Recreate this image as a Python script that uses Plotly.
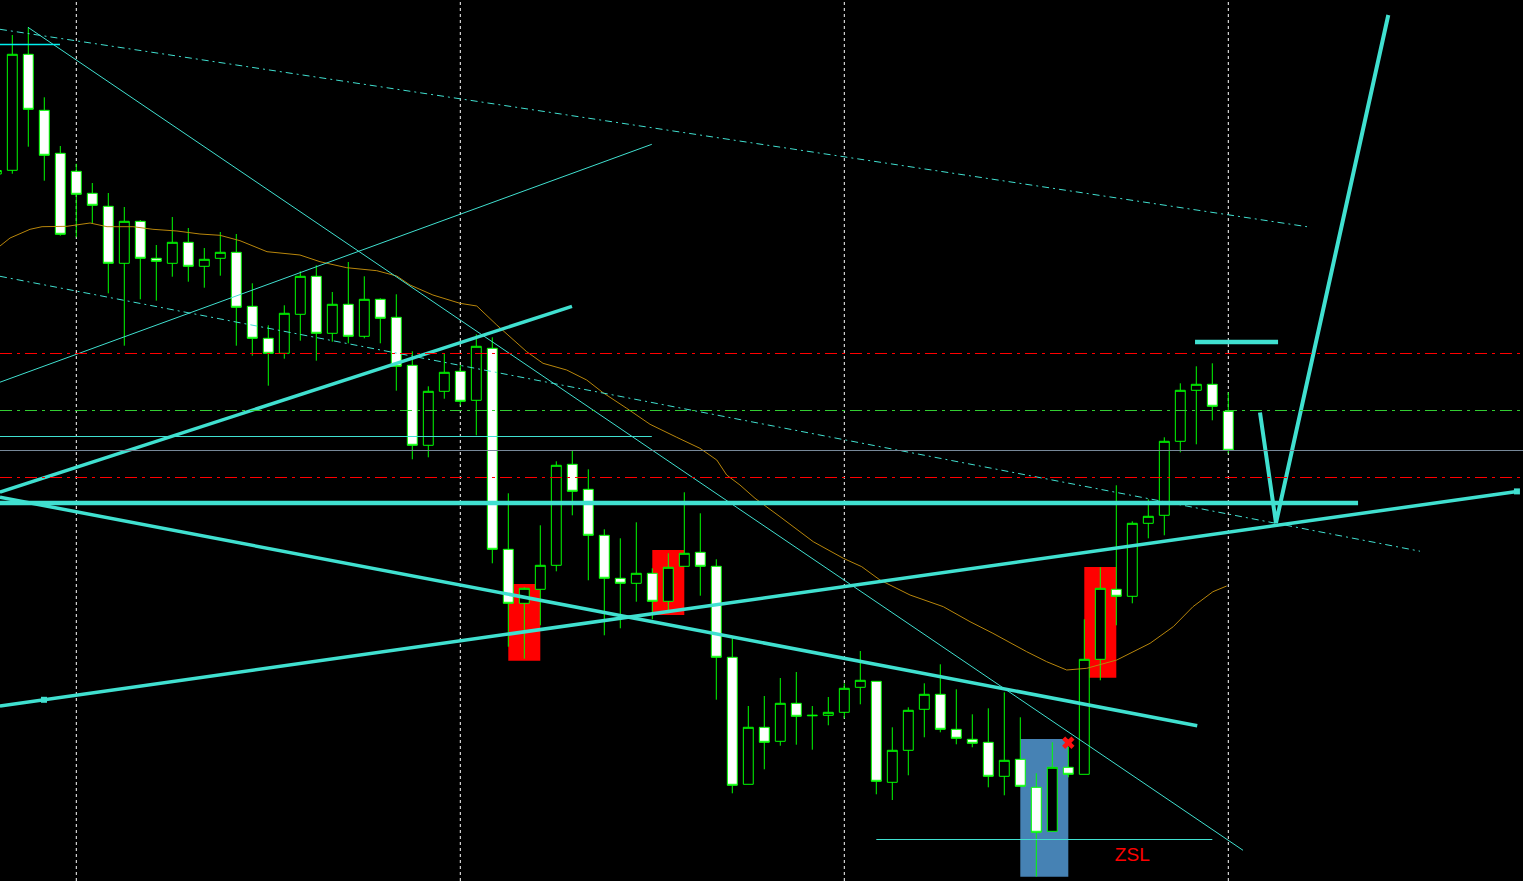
import plotly.graph_objects as go

# ---------------- candle data (bar index, OHLC) ----------------
bar_idx = list(range(-1, 77))
opens = [707, 710.7, 826.7, 770.7, 727.7, 709.7, 687.7, 674.7, 617.7, 659.7,
         622.7, 617.7, 638.7, 614.7, 622.7, 628.7, 574.7, 542.7, 527.7, 566.7,
         604.7, 547.7, 576.7, 544.7, 581.7, 563.7, 515.7, 435.7, 489.7, 509.7,
         480.7, 532.7, 331.7, 277.7, 291.7, 315.7, 416.7, 391.7, 345.7, 302.7,
         297.7, 307.7, 279.7, 314.7, 328.7, 314.7, 223.7, 96.7, 153.7, 139.7,
         177.7, 165.2, 165.7, 168.7, 193.7, 199.7, 98.7, 130.7, 171.7, 186.7,
         151.7, 141.7, 138.7, 104.7, 121.7, 93.7, 49.7, 113.7, 106.7, 221.7,
         291.7, 284.7, 357.7, 365.7, 439.7, 490.7, 496.7, 469.7]
highs = [713, 846, 853.7, 783.7, 735, 717.3, 698, 688, 674, 661,
         636, 664, 653, 633, 649, 647, 597.7, 555.7, 575.7, 609.7,
         615.7, 589, 619, 604.7, 582.7, 586.7, 529.7, 494.7, 527.7, 516,
         546.7, 543.7, 387.7, 293.7, 355.7, 419.7, 430.7, 411.7, 351.7, 342.7,
         358.7, 312.7, 327.7, 388.7, 367.7, 321.7, 243.7, 175, 185, 203,
         209, 175, 184, 197.7, 230, 199.7, 153.7, 173.7, 197.7, 216.7,
         191.7, 166.7, 172.7, 188.7, 163.7, 107.7, 138.7, 134.3, 261.7, 313.7,
         395.7, 359.7, 381.7, 443.7, 497.7, 514.7, 517.7, 488.7]
lows = [705, 707.3, 734.3, 700.3, 645.3, 643.7, 657.7, 587.7, 535.3, 581.7,
        580.3, 604.3, 599.3, 593.3, 605.3, 535.3, 525.3, 495.3, 522.3, 540.3,
        520.3, 539.3, 537.7, 542.7, 537.7, 490.3, 421.7, 423.7, 482.3, 475.7,
        445.7, 317.7, 234.3, 222.3, 255.7, 309.7, 365.7, 300.7, 245.7, 252.7,
        279.3, 261.7, 267.7, 314.7, 285.3, 181.3, 87.7, 96.7, 111.7, 135.3,
        136.3, 131.3, 155.7, 162.7, 176.7, 86.7, 81, 105.7, 143.7, 148.7,
        136.7, 133.7, 93.7, 85.7, 94.7, 4.3, 49.7, 103.7, 106.7, 200.7,
        255.7, 277.7, 342.7, 345.7, 428.7, 436.7, 460.7, 427.7]
closes = [710.5, 826.7, 771.7, 725.7, 646.7, 686.7, 675.7, 617.7, 659.7, 622.7,
          619.7, 638.7, 614.7, 621.7, 628.7, 573.7, 542.7, 527.7, 567.7, 604.7,
          547.7, 576.7, 544.7, 581.7, 562.7, 514.7, 435.7, 489.7, 508.7, 479.7,
          534.7, 331.7, 277.7, 292.7, 315.7, 415.7, 389.7, 345.7, 302.7, 297.7,
          307.7, 279.7, 313.7, 327.7, 314.7, 223.7, 95.7, 153.7, 138.7, 177.7,
          164.7, 165.7, 168.7, 192.7, 200.7, 99.7, 130.7, 170.7, 186.7, 151.7,
          142.7, 137.7, 104.7, 120.7, 94.7, 48.7, 113.7, 106.7, 221.7, 292.7,
          284.7, 357.7, 364.7, 439.7, 490.7, 496.7, 474.7, 430.7]

# ---------------- moving average (bar index, value) ----------------
ma_x = [-0.77, -0.14, 1.11, 1.86, 3.42, 4.86, 5.92, 7.54, 8.79, 10.29, 11.73,
        12.98, 14.23, 15.92, 17.98, 19.23, 20.9, 22.78, 24.03, 24.86, 26.29,
        27.98, 29.03, 30.28, 31.73, 32.15, 33.17, 34.65, 35.9, 36.92, 38.4,
        39.86, 41.53, 42.98, 44.03, 44.65, 45.48, 46.42, 47.98, 50.06, 51.94,
        53.09, 54.23, 56.11, 58.19, 59.86, 61.29, 63.4, 64.65, 65.9, 67.15,
        69.03, 71.11, 72.56, 73.79, 75.04, 75.9]
ma_y = [635, 643, 651.7, 654.3, 654.7, 658, 654.3, 654.3, 651.7, 650, 647,
        645.7, 640.3, 629.3, 626, 619.3, 613.3, 610.3, 605, 596, 586,
        577.7, 575, 556, 535.3, 529.3, 517.7, 511, 501, 488.3, 472.7,
        456.7, 443.7, 432.7, 421, 406, 396, 382.7, 364.3, 339.3, 322.7,
        314.3, 301, 286, 274.3, 259.3, 247.7, 229.3, 219.3, 211, 212.7,
        221, 237.7, 254.3, 274.3, 289.3, 295]

# ---------------- drawn objects (bar index, price) ----------------
thin_dashdot_top_x = [-0.77, 80.92]
thin_dashdot_top_y = [851.7, 654.3]
thin_dashdot_mid_x = [-0.77, 87.98]
thin_dashdot_mid_y = [604.7, 329.8]
thin_steep_x = [0.98, 76.92]
thin_steep_y = [853.7, 30.7]
thin_rise_x = [-0.77, 39.97]
thin_rise_y = [498.8, 736.7]
thin_level_x = [-0.77, 39.97]
thin_level_y = [444.5, 444.5]
short_level_x = [-0.77, 2.98]
short_level_y = [836.5, 836.5]
zsl_level_x = [54, 75]
zsl_level_y = [41.5, 41.5]

thick_level_x = [-0.77, 84.11]
thick_level_y = [378, 378]
thick_rise_x = [-0.77, 94.04]
thick_rise_y = [175, 389.6]
thick_rise_marks_x = [1.98, 94.04]
thick_rise_marks_y = [181.2, 389.6]
thick_fall_x = [-0.77, 74.06]
thick_fall_y = [383.8, 155.3]
thick_rise2_x = [-0.77, 34.98]
thick_rise2_y = [388.9, 574.6]
v_path_x = [77.98, 78.98, 86.0]
v_path_y = [468.5, 358, 866]
target_x = [73.92, 79.11]
target_y = [538.9, 538.9]

red_levels = [527.5, 403.5]
green_level = 470.5
gray_level = 430.5
vgrid = [4, 28, 52, 76]

red_boxes = [(31, 33, 220.3, 297), (40, 42, 266, 331), (67, 69, 203.3, 314)]
blue_box = (63, 66, 4.3, 142)
x_mark = (66, 138.3)
zsl_label = (70, 25, "ZSL")

TURQ = "#40E0D0"
GREEN = "#00FF00"

fig = go.Figure()

fig.add_trace(go.Candlestick(
    x=bar_idx, open=opens, high=highs, low=lows, close=closes,
    increasing=dict(line=dict(color=GREEN, width=1), fillcolor="black"),
    decreasing=dict(line=dict(color=GREEN, width=1), fillcolor="white"),
    whiskerwidth=0, hoverinfo="skip", showlegend=False))

fig.add_trace(go.Scatter(x=ma_x, y=ma_y, mode="lines",
                         line=dict(color="#B8860B", width=1), showlegend=False, hoverinfo="skip"))

def add_line(xs, ys, width, color=TURQ, dash=None):
    fig.add_trace(go.Scatter(x=xs, y=ys, mode="lines",
                             line=dict(color=color, width=width, dash=dash),
                             showlegend=False, hoverinfo="skip"))

add_line(thin_dashdot_top_x, thin_dashdot_top_y, 1, dash="7px,4px,2px,4px")
add_line(thin_dashdot_mid_x, thin_dashdot_mid_y, 1, dash="7px,4px,2px,4px")
add_line(thin_steep_x, thin_steep_y, 1)
add_line(thin_rise_x, thin_rise_y, 1)
add_line(thin_level_x, thin_level_y, 1)
add_line(short_level_x, short_level_y, 1.5, color="#00F0F0")
add_line(zsl_level_x, zsl_level_y, 1)
add_line(thick_level_x, thick_level_y, 4.5)
add_line(thick_rise_x, thick_rise_y, 3.5)
add_line(thick_fall_x, thick_fall_y, 3.5)
add_line(thick_rise2_x, thick_rise2_y, 3.5)
add_line(v_path_x, v_path_y, 4)
add_line(target_x, target_y, 4.5)

fig.add_trace(go.Scatter(x=thick_rise_marks_x, y=thick_rise_marks_y, mode="markers",
                         marker=dict(symbol="square", size=6, color=TURQ),
                         showlegend=False, hoverinfo="skip"))

fig.add_trace(go.Scatter(x=[x_mark[0]], y=[x_mark[1]], mode="markers",
                         marker=dict(symbol="x", size=11, color="#FF1010", line=dict(width=0)),
                         showlegend=False, hoverinfo="skip"))

fig.add_trace(go.Scatter(x=[zsl_label[0]], y=[zsl_label[1]], mode="text",
                         text=[zsl_label[2]],
                         textfont=dict(family="Liberation Sans, Arial", size=19, color="#FF0000"),
                         showlegend=False, hoverinfo="skip"))

shapes = []
for gx in vgrid:
    shapes.append(dict(type="line", xref="x", yref="paper", x0=gx, x1=gx, y0=0, y1=1,
                       line=dict(color="white", width=1, dash="3px,3px"), layer="below"))
for (x0, x1, y0, y1) in red_boxes:
    shapes.append(dict(type="rect", xref="x", yref="y", x0=x0, x1=x1, y0=y0, y1=y1,
                       fillcolor="#FF0000", line=dict(width=0), layer="below"))
shapes.append(dict(type="rect", xref="x", yref="y", x0=blue_box[0], x1=blue_box[1],
                   y0=blue_box[2], y1=blue_box[3], fillcolor="#4682B4",
                   line=dict(width=0), layer="below"))
for lv in red_levels:
    shapes.append(dict(type="line", xref="paper", yref="y", x0=0, x1=1, y0=lv, y1=lv,
                       line=dict(color="#FF0000", width=1, dash="12px,5px,3px,5px"), layer="above"))
shapes.append(dict(type="line", xref="paper", yref="y", x0=0, x1=1, y0=green_level, y1=green_level,
                   line=dict(color="#32CD32", width=1, dash="12px,5px,3px,5px"), layer="above"))
shapes.append(dict(type="line", xref="paper", yref="y", x0=0, x1=1, y0=gray_level, y1=gray_level,
                   line=dict(color="#778899", width=1), layer="above"))

fig.update_layout(
    width=1523, height=881,
    margin=dict(l=0, r=0, t=0, b=0),
    paper_bgcolor="black", plot_bgcolor="black",
    boxgap=0.38, boxgroupgap=0,
    shapes=shapes,
    showlegend=False,
    xaxis=dict(range=[-0.769, 94.419], showgrid=False, zeroline=False, showticklabels=False,
               ticks="", rangeslider=dict(visible=False), fixedrange=True),
    yaxis=dict(range=[0, 881], showgrid=False, zeroline=False, showticklabels=False,
               ticks="", fixedrange=True),
    hovermode=False,
)

fig.write_html("out.html", config={"displayModeBar": False},
               post_script="document.body.style.margin='0';document.body.style.overflow='hidden';document.body.style.background='black';")
